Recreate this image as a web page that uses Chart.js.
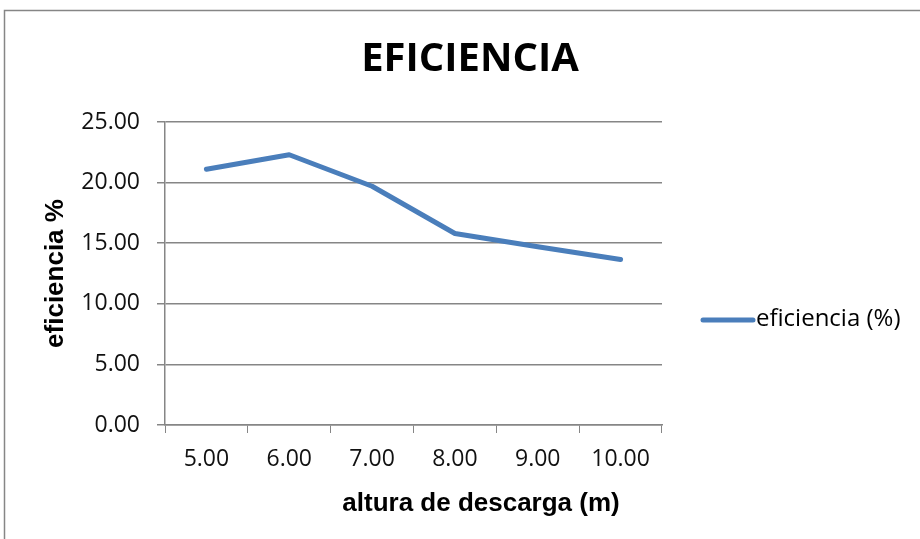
<!DOCTYPE html>
<html lang="es">
<head>
  <meta charset="UTF-8">
  <title>EFICIENCIA</title>
  <script src="https://cdn.jsdelivr.net/npm/chart.js"></script>
  <style>
    html, body {
      margin: 0;
      padding: 0;
      background: #fff;
    }
    canvas {
      display: block;
    }
  </style>
</head>
<body>
  <canvas id="chart" width="920" height="539"></canvas>

  <script>
    // datos
    const alturas = ['5.00', '6.00', '7.00', '8.00', '9.00', '10.00'];
    const eficiencia = [21.1, 22.3, 19.7, 15.8, 14.7, 13.65];
    const yTicks = [0, 5, 10, 15, 20, 25];

    const tituloGrafico = 'EFICIENCIA';
    const tituloX = 'altura de descarga (m)';
    const tituloY = 'eficiencia %';
    const serieLabel = 'eficiencia (%)';

    const azul = '#4a7ebb';
    const gris = '#868686';

    // marco exterior, titulos y leyenda al estilo Excel
    const excelExtras = {
      id: 'excelExtras',
      beforeDraw(chart) {
        const ctx = chart.ctx;
        ctx.save();
        ctx.strokeStyle = gris;
        ctx.lineWidth = 1.5;
        ctx.strokeRect(4.5, 10.5, 1000, 1000);
        ctx.restore();
      },
      afterDraw(chart) {
        const ctx = chart.ctx;
        ctx.save();
        ctx.fillStyle = '#000';
        ctx.textBaseline = 'middle';
        ctx.textAlign = 'center';

        // titulo del grafico
        ctx.font = 'bold 40px "Open Sans"';
        ctx.fillText(tituloGrafico, 470, 60);

        // titulo del eje X
        ctx.font = 'bold 26px "Liberation Sans"';
        ctx.fillText(tituloX, 481, 504);

        // leyenda
        ctx.strokeStyle = azul;
        ctx.lineWidth = 5;
        ctx.lineCap = 'round';
        ctx.beginPath();
        ctx.moveTo(703, 320);
        ctx.lineTo(753, 320);
        ctx.stroke();
        ctx.textAlign = 'left';
        ctx.font = '24px "Open Sans"';
        ctx.fillText(chart.data.datasets[0].label, 756, 319);
        ctx.restore();
      }
    };

    new Chart(document.getElementById('chart'), {
      type: 'line',
      data: {
        labels: alturas,
        datasets: [{
          label: serieLabel,
          data: eficiencia,
          borderColor: azul,
          backgroundColor: azul,
          borderWidth: 5,
          borderCapStyle: 'round',
          borderJoinStyle: 'round',
          pointRadius: 0,
          tension: 0
        }]
      },
      options: {
        responsive: false,
        animation: false,
        layout: {
          padding: { left: 0, top: 122, right: 258, bottom: 0 }
        },
        plugins: {
          legend: { display: false },
          tooltip: { enabled: false },
          title: { display: false }
        },
        scales: {
          x: {
            type: 'category',
            offset: true,
            grid: {
              offset: true,
              drawOnChartArea: false,
              drawTicks: true,
              tickLength: 8,
              color: gris
            },
            border: { display: true, color: gris, width: 1.5 },
            ticks: {
              color: '#111',
              font: { family: 'Open Sans', size: 23 },
              padding: 13,
              maxRotation: 0,
              autoSkip: false
            },
            afterFit(scale) {
              scale.height = 114;
            }
          },
          y: {
            min: 0,
            max: 25,
            afterBuildTicks(scale) {
              scale.ticks = yTicks.map(v => ({ value: v }));
            },
            grid: {
              color: gris,
              lineWidth: 1.5,
              drawTicks: true,
              tickLength: 8
            },
            border: { display: true, color: gris, width: 1.5 },
            ticks: {
              color: '#111',
              font: { family: 'Open Sans', size: 23 },
              padding: 17,
              callback: v => Number(v).toFixed(2)
            },
            title: {
              display: true,
              text: tituloY,
              color: '#000',
              font: { family: 'Liberation Sans', size: 26, weight: 'bold' },
              padding: { top: 40, bottom: 0 }
            },
            afterFit(scale) {
              scale.width = 165;
            }
          }
        }
      },
      plugins: [excelExtras]
    });
  </script>
</body>
</html>
